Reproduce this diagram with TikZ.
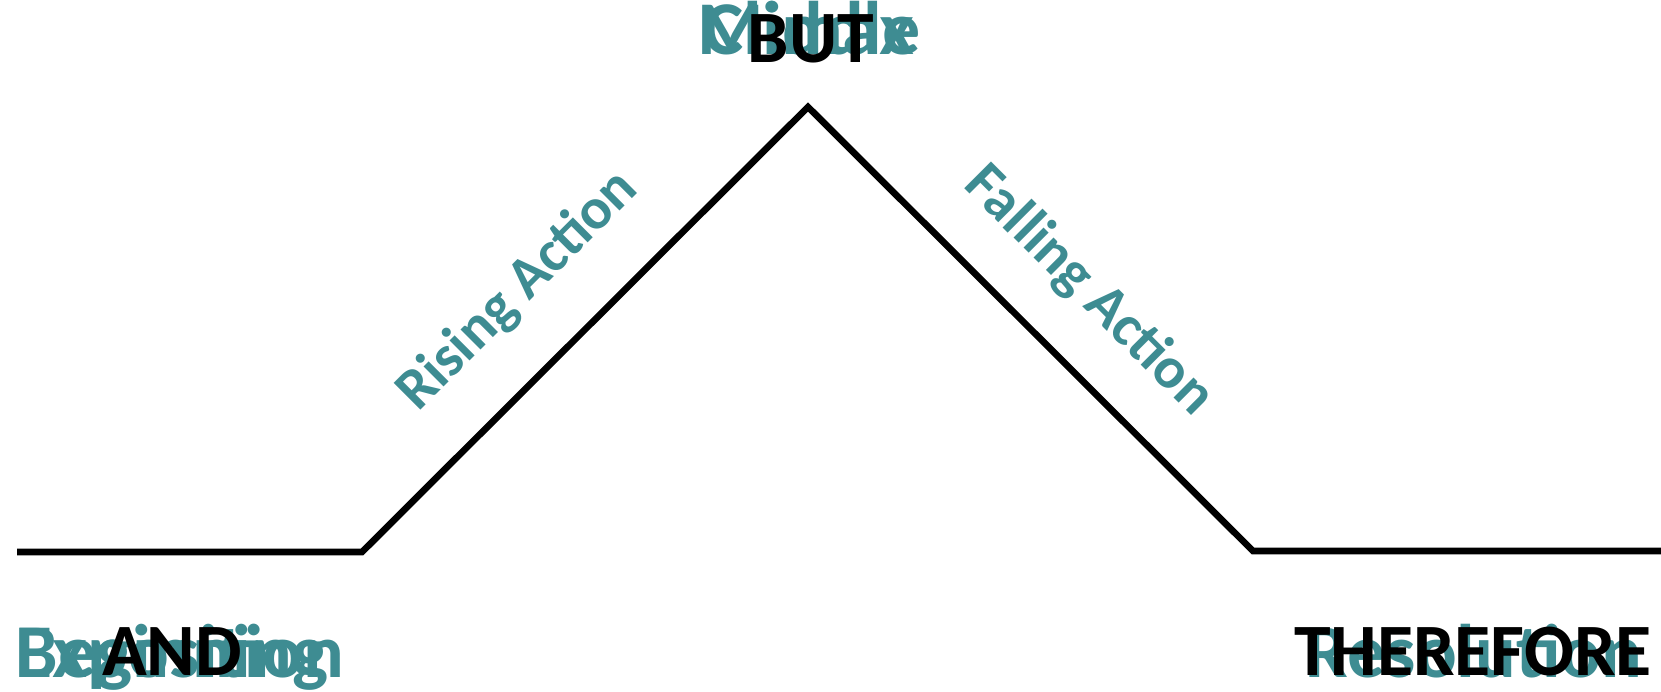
\documentclass[tikz,border=0pt]{standalone}
\usepackage{fontspec}
\setmainfont{Carlito}
\usetikzlibrary{positioning}
\definecolor{plotteal}{HTML}{3E8C92}

\begin{document}
\begin{tikzpicture}[x=0.01cm, y=-0.01cm,
  plotline/.style={line width=1.9pt, draw=black},
  stage/.style={text=plotteal, font=\fontsize{21.6}{25}\selectfont\bfseries, inner sep=0pt},
  link/.style={text=black, font=\fontsize{21}{25}\selectfont\bfseries, inner sep=0pt},
  slope/.style={text=plotteal, font=\fontsize{16.6}{20}\selectfont\bfseries, inner sep=0pt}
]
\useasboundingbox (0,0) rectangle (1661,691);
% plot line
\coordinate (p0) at (17,552);
\coordinate (p1) at (362,552);
\coordinate (p2) at (808,107);
\coordinate (p3) at (1253,551);
\coordinate (p4) at (1661,551);
\draw[plotline] (p0) -- (p1) -- (p2) -- (p3) -- (p4);
% labels on the slopes
\node[slope, rotate=45] (rise) at (518,291) {Rising Action};
\node[slope, rotate=-45] (fall) at (1089,291) {Falling Action};
% overlaid stage names
\node[stage, anchor=base west] (begin) at (15,677) {Beginning};
\node[stage, anchor=base west] (expo) at (15,677) {Exposition};
\node[stage, anchor=base] (middle) at (809,55) {Middle};
\node[stage, anchor=base] (climax) at (809,55) {Climax};
\node[stage, anchor=base east] (resol) at (1643,677) {Resolution};
% connecting words
\node[link, anchor=base] (and) at (172,675) {AND};
\node[link, anchor=base] (but) at (811,63) {BUT};
\node[link, anchor=base] (therefore) at (1473,675) {THEREFORE};
\end{tikzpicture}
\end{document}
